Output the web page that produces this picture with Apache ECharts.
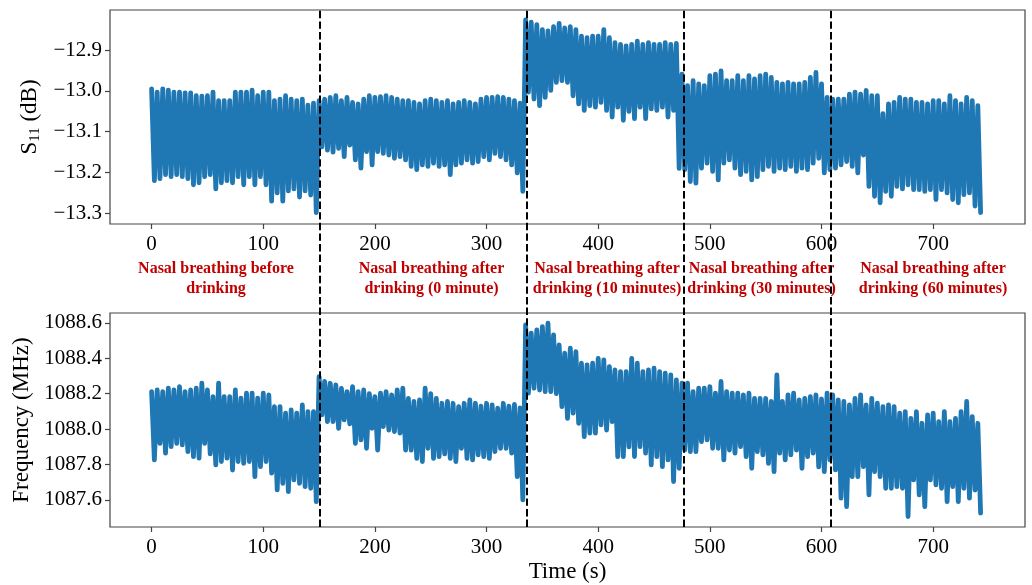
<!DOCTYPE html>
<html>
<head>
<meta charset="utf-8">
<title>S11 and resonant frequency during nasal breathing</title>
<script src="https://cdn.jsdelivr.net/npm/echarts@6.0.0/dist/echarts.min.js"></script>
<style>
  html, body { margin: 0; padding: 0; background: #ffffff; }
  #chart { width: 1032px; height: 585px; }
</style>
</head>
<body>
<div id="chart"></div>
<script>
// Sampling step of the recorded traces (s); each breath gives one peak and one trough.
const STEP = 2.5;

// Phase boundaries (s) and phase captions
const phaseBounds = [151, 336, 476.5, 608];
const phaseCaptions = [
  ['Nasal breathing before', 'drinking'],
  ['Nasal breathing after', 'drinking (0 minute)'],
  ['Nasal breathing after', 'drinking (10 minutes)'],
  ['Nasal breathing after', 'drinking (30 minutes)'],
  ['Nasal breathing after', 'drinking (60 minutes)']
];

const timeTicks = [0, 100, 200, 300, 400, 500, 600, 700];
const s11Ticks = [-13.3, -13.2, -13.1, -13.0, -12.9];
const freqTicks = [1087.6, 1087.8, 1088.0, 1088.2, 1088.4, 1088.6];

// ---- S11 (dB): breath peaks and troughs per phase ----
const s11Peak1 = [-12.995,-13.003,-12.995,-12.998,-13.003,-13.003,-13.005,-13.005,-13.012,-13.013,
  -13.012,-13.003,-13.024,-13.024,-13.024,-13.003,-13.003,-13.003,-12.998,-13.012,
  -13.003,-13.003,-13.024,-13.020,-13.012,-13.020,-13.024,-13.020,-13.035,-13.030];
const s11Trough1 = [-13.220,-13.215,-13.205,-13.210,-13.205,-13.210,-13.215,-13.230,-13.225,-13.210,
  -13.205,-13.240,-13.225,-13.220,-13.225,-13.210,-13.230,-13.210,-13.230,-13.210,
  -13.230,-13.270,-13.250,-13.270,-13.245,-13.240,-13.260,-13.245,-13.255,-13.298];

const s11Peak2 = [-13.024,-13.020,-13.016,-13.012,-13.024,-13.016,-13.028,-13.032,-13.020,-13.012,
  -13.016,-13.014,-13.012,-13.016,-13.020,-13.024,-13.024,-13.028,-13.032,-13.024,
  -13.020,-13.024,-13.028,-13.024,-13.032,-13.028,-13.024,-13.028,-13.032,-13.020,
  -13.016,-13.016,-13.014,-13.016,-13.020,-13.024,-13.030];
const s11Trough2 = [-13.137,-13.145,-13.150,-13.141,-13.161,-13.133,-13.169,-13.189,-13.149,-13.181,
  -13.149,-13.153,-13.157,-13.165,-13.161,-13.169,-13.185,-13.193,-13.181,-13.185,
  -13.177,-13.185,-13.181,-13.205,-13.181,-13.177,-13.169,-13.177,-13.173,-13.161,
  -13.169,-13.153,-13.161,-13.169,-13.181,-13.201,-13.246];

const s11Peak3 = [-12.826,-12.832,-12.838,-12.850,-12.853,-12.843,-12.835,-12.846,-12.843,-12.850,
  -12.866,-12.870,-12.866,-12.866,-12.850,-12.870,-12.882,-12.886,-12.890,-12.886,
  -12.878,-12.886,-12.882,-12.886,-12.886,-12.882,-12.886,-12.884];
const s11Trough3 = [-13.003,-13.020,-13.036,-13.016,-12.999,-12.979,-12.975,-12.979,-13.012,-13.032,
  -13.048,-13.036,-13.040,-13.028,-13.048,-13.064,-13.040,-13.072,-13.050,-13.068,
  -13.040,-13.068,-13.044,-13.048,-13.040,-13.064,-13.048,-13.190];

const s11Peak4 = [-12.959,-12.987,-12.975,-12.983,-12.987,-12.963,-12.959,-12.951,-12.975,-12.975,
  -12.963,-12.975,-12.963,-12.971,-12.963,-12.959,-12.967,-12.979,-12.983,-12.979,
  -12.983,-12.983,-12.979,-12.967,-12.955,-12.983];
const s11Trough4 = [-13.193,-13.222,-13.226,-13.189,-13.177,-13.197,-13.218,-13.177,-13.169,-13.189,
  -13.205,-13.197,-13.218,-13.210,-13.193,-13.185,-13.197,-13.189,-13.193,-13.185,
  -13.197,-13.189,-13.193,-13.177,-13.165,-13.201];

const s11Peak5 = [-13.016,-13.020,-13.020,-13.020,-13.008,-13.003,-13.008,-12.999,-13.012,-13.012,
  -13.056,-13.032,-13.028,-13.016,-13.020,-13.020,-13.028,-13.028,-13.032,-13.024,
  -13.024,-13.032,-13.012,-13.024,-13.032,-13.016,-13.024,-13.036];
const s11Trough5 = [-13.193,-13.189,-13.181,-13.173,-13.185,-13.201,-13.157,-13.234,-13.258,-13.274,
  -13.246,-13.258,-13.234,-13.240,-13.230,-13.242,-13.242,-13.246,-13.242,-13.266,
  -13.242,-13.250,-13.266,-13.274,-13.254,-13.250,-13.282,-13.298];

// ---- Resonant frequency (MHz): breath peaks and troughs per phase ----
const freqPeak1 = [1088.212,1088.221,1088.212,1088.231,1088.221,1088.240,1088.212,1088.221,1088.231,1088.259,
  1088.221,1088.184,1088.259,1088.184,1088.184,1088.221,1088.175,1088.203,1088.203,1088.175,
  1088.203,1088.193,1088.127,1088.127,1088.090,1088.108,1088.090,1088.137,1088.099,1088.099];
const freqTrough1 = [1087.826,1087.920,1087.864,1087.901,1087.920,1087.911,1087.873,1087.845,1087.836,1087.920,
  1087.860,1087.798,1087.817,1087.836,1087.769,1087.817,1087.807,1087.817,1087.732,1087.788,
  1087.817,1087.751,1087.657,1087.694,1087.647,1087.713,1087.694,1087.675,1087.666,1087.590];

const freqPeak2 = [1088.297,1088.270,1088.259,1088.250,1088.230,1088.212,1088.240,1088.212,1088.221,1088.200,
  1088.184,1088.203,1088.212,1088.193,1088.221,1088.231,1088.174,1088.156,1088.165,1088.231,
  1088.200,1088.174,1088.146,1088.156,1088.146,1088.127,1088.146,1088.165,1088.146,1088.130,
  1088.146,1088.137,1088.118,1088.146,1088.130,1088.140,1088.120];
const freqTrough2 = [1088.080,1088.042,1088.042,1088.005,1088.052,1088.030,1087.920,1087.939,1087.892,1088.005,
  1087.882,1088.014,1087.995,1087.986,1087.977,1087.882,1087.882,1087.835,1087.817,1087.892,
  1087.835,1087.845,1087.860,1087.835,1087.817,1087.892,1087.835,1087.826,1087.854,1087.845,
  1087.835,1087.873,1087.892,1087.892,1087.864,1087.732,1087.600];

const freqPeak3 = [1088.589,1088.542,1088.560,1088.579,1088.598,1088.532,1088.476,1088.429,1088.457,1088.438,
  1088.372,1088.363,1088.372,1088.400,1088.391,1088.353,1088.334,1088.325,1088.325,1088.400,
  1088.372,1088.325,1088.334,1088.344,1088.325,1088.316,1088.306,1088.278];
const freqTrough3 = [1088.203,1088.231,1088.221,1088.212,1088.212,1088.200,1088.127,1088.061,1088.090,1088.033,
  1087.958,1087.977,1087.977,1088.024,1087.995,1088.042,1087.845,1087.845,1087.900,1087.845,
  1087.901,1087.864,1087.798,1087.845,1087.788,1087.826,1087.704,1087.779];

const freqPeak4 = [1088.259,1088.259,1088.212,1088.231,1088.231,1088.240,1088.203,1088.269,1088.212,1088.203,
  1088.203,1088.193,1088.203,1088.174,1088.174,1088.174,1088.156,1088.306,1088.156,1088.193,
  1088.203,1088.165,1088.174,1088.184,1088.193,1088.170];
const freqTrough4 = [1087.882,1087.873,1087.873,1087.930,1087.939,1087.892,1087.892,1087.826,1087.882,1087.864,
  1087.901,1087.845,1087.779,1087.873,1087.854,1087.807,1087.760,1087.864,1087.826,1087.854,
  1087.882,1087.779,1087.845,1087.864,1087.787,1087.760];

const freqPeak5 = [1088.203,1088.193,1088.165,1088.156,1088.137,1088.174,1088.193,1088.137,1088.174,1088.146,
  1088.127,1088.137,1088.127,1088.090,1088.099,1088.061,1088.099,1088.033,1088.080,1088.090,
  1088.042,1088.099,1088.042,1088.061,1088.099,1088.156,1088.071,1088.033];
const freqTrough5 = [1087.826,1087.770,1087.610,1087.562,1087.732,1087.732,1087.788,1087.628,1087.760,1087.732,
  1087.666,1087.666,1087.675,1087.666,1087.506,1087.713,1087.628,1087.562,1087.713,1087.685,
  1087.666,1087.590,1087.675,1087.590,1087.666,1087.610,1087.656,1087.525];

// Join peaks and troughs of one phase into the recorded order
function breathTrace(peaks, troughs) {
  const out = [];
  for (let i = 0; i < peaks.length; i++) {
    out.push(peaks[i], troughs[i]);
  }
  return out;
}

function toPoints(values) {
  return values.map((v, i) => [i * STEP, v]);
}

const s11Values = [].concat(
  breathTrace(s11Peak1, s11Trough1), breathTrace(s11Peak2, s11Trough2),
  breathTrace(s11Peak3, s11Trough3), breathTrace(s11Peak4, s11Trough4),
  breathTrace(s11Peak5, s11Trough5));
const freqValues = [].concat(
  breathTrace(freqPeak1, freqTrough1), breathTrace(freqPeak2, freqTrough2),
  breathTrace(freqPeak3, freqTrough3), breathTrace(freqPeak4, freqTrough4),
  breathTrace(freqPeak5, freqTrough5));

const SERIF = '"Liberation Serif", "Times New Roman", serif';
const INK = '#000000';
const FRAME = '#444444';
const TRACE = '#1f77b4';

// time axis padded 5 % either side of the 0-745 s record
const T_MIN = -37.25, T_MAX = 782.25;

function minusFmt(v) {
  return Number(v).toFixed(1).replace('-', '\u2212');
}

function timeAxis(gridIndex, withName) {
  const ax = {
    type: 'value', gridIndex: gridIndex, min: T_MIN, max: T_MAX,
    axisLine: { show: false, onZero: false },
    splitLine: { show: false },
    axisTick: { show: true, inside: false, length: 5, customValues: timeTicks,
      lineStyle: { color: FRAME, width: 1.2 } },
    axisLabel: { show: true, customValues: timeTicks, margin: 10,
      fontFamily: SERIF, fontSize: 21, color: INK }
  };
  if (withName) {
    ax.name = 'Time (s)';
    ax.nameLocation = 'middle';
    ax.nameGap = 33;
    ax.nameTextStyle = { fontFamily: SERIF, fontSize: 23, color: INK };
  }
  return ax;
}

function valueAxis(gridIndex, min, max, ticks, name, gap, rich) {
  return {
    type: 'value', gridIndex: gridIndex, min: min, max: max,
    axisLine: { show: false, onZero: false },
    splitLine: { show: false },
    axisTick: { show: true, inside: false, length: 5, customValues: ticks,
      lineStyle: { color: FRAME, width: 1.2 } },
    axisLabel: { show: true, customValues: ticks, margin: 8,
      fontFamily: SERIF, fontSize: 21, color: INK, formatter: minusFmt },
    name: name, nameLocation: 'middle', nameGap: gap, nameRotate: 90,
    nameTextStyle: Object.assign({ fontFamily: SERIF, fontSize: 23, color: INK }, rich ? { rich: rich } : {})
  };
}

const chart = echarts.init(document.getElementById('chart'), null, { renderer: 'canvas' });

const captionGraphics = [];
const captionCentres = [216, 431.5, 607, 761.5, 933];
phaseCaptions.forEach((lines, k) => {
  lines.forEach((txt, j) => {
    captionGraphics.push({
      type: 'text', x: captionCentres[k], y: 269 + j * 20,
      style: { text: txt, x: 0, y: 0, textAlign: 'center', textVerticalAlign: 'middle',
        font: 'bold 16px ' + SERIF, fill: '#c00000' }
    });
  });
});

chart.setOption({
  animation: false,
  backgroundColor: '#ffffff',
  grid: [
    { left: 110, top: 10, width: 915, height: 214, show: true, borderColor: FRAME, borderWidth: 1.2, backgroundColor: 'transparent' },
    { left: 110, top: 313, width: 915, height: 214, show: true, borderColor: FRAME, borderWidth: 1.2, backgroundColor: 'transparent' },
    { left: 110, top: 10, width: 915, height: 517, show: false }
  ],
  xAxis: [
    timeAxis(0, false),
    timeAxis(1, true),
    { type: 'value', gridIndex: 2, min: T_MIN, max: T_MAX, show: false }
  ],
  yAxis: [
    valueAxis(0, -13.326, -12.802, s11Ticks, '{m|S}{sub|11}{m| (dB)}', 64, {
      m: { fontFamily: SERIF, fontSize: 23, color: INK, lineHeight: 26 },
      sub: { fontFamily: SERIF, fontSize: 15, color: INK, lineHeight: 14, verticalAlign: 'bottom' }
    }),
    valueAxis(1, 1087.447, 1088.656, freqTicks, 'Frequency (MHz)', 73, null),
    { type: 'value', gridIndex: 2, min: 0, max: 1, show: false }
  ],
  graphic: captionGraphics,
  series: [
    {
      type: 'line', xAxisIndex: 0, yAxisIndex: 0, data: toPoints(s11Values),
      showSymbol: false, symbol: 'none', silent: true,
      lineStyle: { color: TRACE, width: 4.8, join: 'round', cap: 'round' }
    },
    {
      type: 'line', xAxisIndex: 1, yAxisIndex: 1, data: toPoints(freqValues),
      showSymbol: false, symbol: 'none', silent: true,
      lineStyle: { color: TRACE, width: 4.8, join: 'round', cap: 'round' }
    },
    {
      type: 'line', xAxisIndex: 2, yAxisIndex: 2, data: [], silent: true,
      markLine: {
        silent: true, symbol: ['none', 'none'], animation: false,
        label: { show: false },
        lineStyle: { color: '#000000', width: 2, type: [7.4, 3.2] },
        data: phaseBounds.map(t => ({ xAxis: t }))
      }
    }
  ]
});
</script>
</body>
</html>
